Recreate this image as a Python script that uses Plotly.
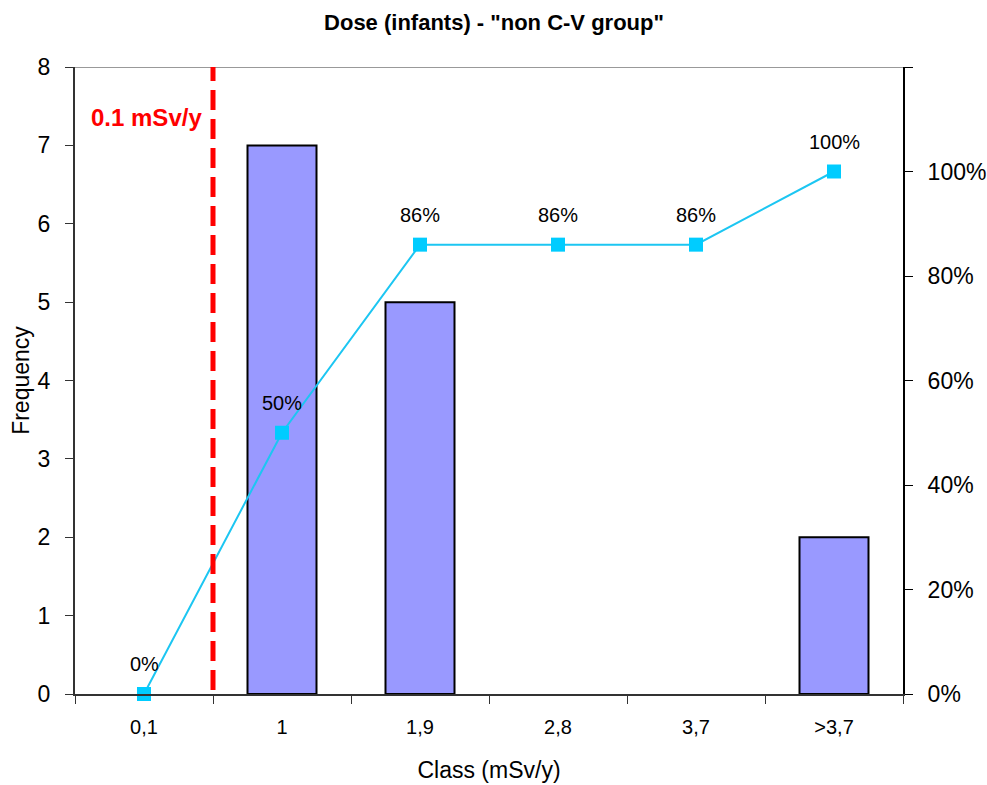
import plotly.graph_objects as go

categories = ["0,1", "1", "1,9", "2,8", "3,7", ">3,7"]
frequency = [0, 7, 5, 0, 0, 2]
cumulative = [0.0, 0.50, 0.86, 0.86, 0.86, 1.00]
cum_labels = ["0%", "50%", "86%", "86%", "86%", "100%"]
right_ticks = [0, 0.2, 0.4, 0.6, 0.8, 1.0, 1.2]
right_ticktext = ["0%", "20%", "40%", "60%", "80%", "100%", ""]

font = "Liberation Sans, Arial, sans-serif"

fig = go.Figure()
fig.add_trace(go.Bar(
    x=categories, y=frequency, width=0.5,
    marker=dict(color="#9999FF",
                line=dict(color="black", width=[2 if v > 0 else 0 for v in frequency])),
    showlegend=False,
))
fig.add_trace(go.Scatter(
    x=categories, y=cumulative, yaxis="y2",
    mode="lines+markers",
    line=dict(color="#1CC6F2", width=2),
    marker=dict(symbol="square", size=14, color="#00CCFF"),
    showlegend=False, cliponaxis=False,
))

annotations = [
    dict(text=lab, xref="x", yref="y2", x=c, y=v, yshift=30, showarrow=False,
         font=dict(size=20, color="black", family=font))
    for c, v, lab in zip(categories, cumulative, cum_labels)
]
annotations.append(
    dict(text="<b>0.1 mSv/y</b>", xref="x", yref="y", x=0.02, y=7.36,
         showarrow=False, font=dict(size=24, color="#FF0000", family=font))
)

fig.update_layout(
    width=987, height=785,
    margin=dict(l=75, r=84, t=67, b=91),
    paper_bgcolor="white", plot_bgcolor="white",
    font=dict(family=font, color="black"),
    title=dict(text='<b>Dose (infants) - "non C-V group"</b>', x=0.5005, xanchor="center",
               xref="container", y=0.972, yanchor="middle", font=dict(size=22, family=font)),
    xaxis=dict(
        type="category", tickson="boundaries", ticks="outside", ticklen=8,
        tickcolor="#333333", showline=True, linecolor="#333333", linewidth=2,
        tickfont=dict(size=20), showgrid=False, ticklabelstandoff=14,
        title=dict(text="Class (mSv/y)", font=dict(size=23), standoff=25),
        range=[-0.5, 5.5], automargin=False,
    ),
    yaxis=dict(
        range=[0, 8], dtick=1, ticks="outside", ticklen=8, tickcolor="#333333",
        showline=True, linecolor="#333333", linewidth=2, showgrid=False,
        tickfont=dict(size=23), zeroline=False, ticklabelstandoff=10,
        title=dict(text="Frequency", font=dict(size=23), standoff=2),
        automargin=False,
    ),
    yaxis2=dict(
        overlaying="y", side="right", range=[0, 1.2],
        tickvals=right_ticks, ticktext=right_ticktext,
        ticks="outside", ticklen=8, tickcolor="black",
        showline=True, linecolor="black", linewidth=2, showgrid=False,
        tickfont=dict(size=23), zeroline=False, ticklabelstandoff=10,
        automargin=False,
    ),
    shapes=[
        dict(type="line", xref="paper", yref="y", x0=0, x1=1, y0=8, y1=8,
             line=dict(color="#999999", width=2)),
        dict(type="line", xref="x", yref="y", x0=0.5, x1=0.5, y0=0.05, y1=8,
             line=dict(color="#FF0000", width=5, dash="20px,9px")),
    ],
    annotations=annotations,
)

fig.write_html(
    "out.html",
    config={"displayModeBar": False},
    post_script="document.body.style.margin='0';document.body.style.overflow='hidden';",
)
